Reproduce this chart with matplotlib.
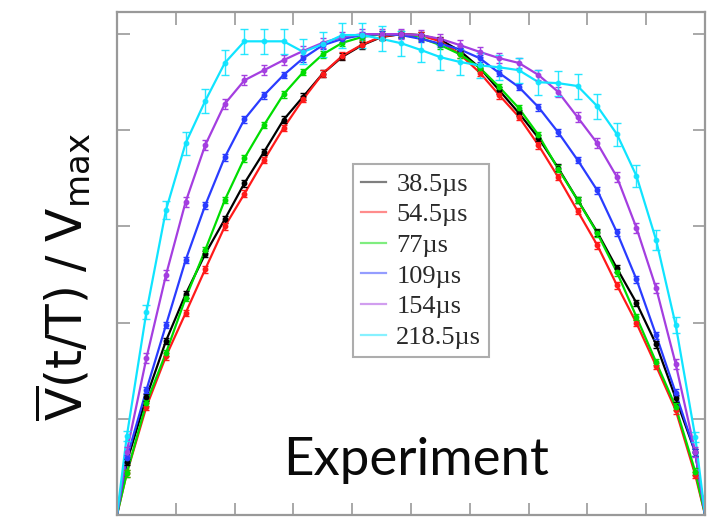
import matplotlib
matplotlib.use("Agg")
import matplotlib.pyplot as plt
from matplotlib.lines import Line2D

# t/T sample points (bin centres) with the curve end points at 0 and 1
t = [0.0, 0.0167, 0.05, 0.0833, 0.1167, 0.15, 0.1833, 0.2167, 0.25, 0.2833, 0.3167,
     0.35, 0.3833, 0.4167, 0.45, 0.4833, 0.5167, 0.55, 0.5833, 0.6167, 0.65,
     0.6833, 0.7167, 0.75, 0.7833, 0.8167, 0.85, 0.8833, 0.9167, 0.95, 0.9833, 1.0]

labels = ["38.5\u00b5s", "54.5\u00b5s", "77\u00b5s", "109\u00b5s", "154\u00b5s", "218.5\u00b5s"]
colors = ["#000000", "#ff1a1a", "#00dd00", "#2a3cff", "#a43ee0", "#10e4ff"]

v_38 = [0.0, 0.11, 0.245, 0.362, 0.459, 0.543, 0.615, 0.690, 0.755, 0.822, 0.870, 0.918,
        0.953, 0.977, 0.994, 1.0, 0.998, 0.988, 0.965, 0.930, 0.883, 0.836, 0.784,
        0.722, 0.655, 0.588, 0.513, 0.441, 0.355, 0.243, 0.13, 0.0]
v_54 = [0.0, 0.087, 0.225, 0.33, 0.42, 0.511, 0.60, 0.668, 0.738, 0.805, 0.865, 0.918,
        0.955, 0.978, 0.995, 1.0, 0.997, 0.985, 0.958, 0.92, 0.873, 0.828, 0.769,
        0.703, 0.632, 0.561, 0.478, 0.399, 0.31, 0.218, 0.083, 0.0]
v_77 = [0.0, 0.087, 0.233, 0.337, 0.451, 0.551, 0.655, 0.742, 0.811, 0.875, 0.921, 0.958,
        0.982, 0.994, 1.0, 0.999, 0.992, 0.977, 0.958, 0.93, 0.89, 0.846, 0.79,
        0.72, 0.655, 0.586, 0.505, 0.412, 0.318, 0.225, 0.09, 0.0]
v_109 = [0.0, 0.118, 0.26, 0.395, 0.53, 0.644, 0.744, 0.823, 0.873, 0.915, 0.95, 0.977,
         0.99, 0.998, 1.0, 0.998, 0.99, 0.98, 0.968, 0.95, 0.919, 0.89, 0.848,
         0.796, 0.738, 0.675, 0.588, 0.49, 0.374, 0.254, 0.13, 0.0]
v_154 = [0.0, 0.132, 0.326, 0.499, 0.651, 0.769, 0.855, 0.904, 0.925, 0.946, 0.965, 0.982,
         0.994, 1.0, 1.0, 1.0, 0.998, 0.99, 0.977, 0.963, 0.95, 0.94, 0.915,
         0.88, 0.827, 0.773, 0.703, 0.597, 0.472, 0.314, 0.131, 0.0]
v_218 = [0.0, 0.164, 0.422, 0.634, 0.773, 0.861, 0.94, 0.985, 0.985, 0.985, 0.963, 0.979,
         0.998, 0.998, 0.99, 0.981, 0.967, 0.952, 0.942, 0.935, 0.931, 0.925, 0.9,
         0.898, 0.892, 0.85, 0.792, 0.705, 0.572, 0.395, 0.162, 0.0]

err_small = [0.0] + [0.007] * 30 + [0.0]
err_154 = [0.0] + [0.01] * 30 + [0.0]
err_218 = [0.0, 0.01, 0.014, 0.019, 0.024, 0.025, 0.026, 0.026, 0.026, 0.026, 0.026, 0.026,
           0.026, 0.026, 0.026, 0.026, 0.026, 0.026, 0.026, 0.026, 0.026, 0.026, 0.026,
           0.026, 0.026, 0.026, 0.024, 0.022, 0.02, 0.016, 0.01, 0.0]

series = [v_38, v_54, v_77, v_109, v_154, v_218]
errors = [err_small, err_small, err_small, err_small, err_154, err_218]
ytick_vals = [0.2, 0.4, 0.6, 0.8, 1.0]
xtick_vals = [0.0, 0.1, 0.2, 0.3, 0.4, 0.5, 0.6, 0.7, 0.8, 0.9, 1.0]

plt.rcParams['mathtext.fontset'] = 'custom'
plt.rcParams['mathtext.rm'] = 'Lato'
plt.rcParams['mathtext.it'] = 'Lato'

fig = plt.figure(figsize=(7.09, 5.19), dpi=100)
ax = fig.add_axes([0.165, 0.0077, 0.8295, 0.9692])

for vals, err, col in zip(series, errors, colors):
    ax.plot(t, vals, color=col, lw=1.6, zorder=2)
    ax.errorbar(t[1:-1], vals[1:-1], yerr=err[1:-1], fmt='o', ms=3.2, color=col,
                ecolor=col, elinewidth=1.0, capsize=3 if err is err_218 else 2.2,
                capthick=1.0, zorder=3, alpha=0.9 if err is err_218 else 1.0)

ax.set_xlim(0, 1)
ax.set_ylim(0, 1.046)
ax.set_xticks(xtick_vals)
ax.set_yticks(ytick_vals)
ax.tick_params(axis='both', which='both', direction='in', length=9, width=1.2,
               color='#999999', top=True, right=True, labelbottom=False, labelleft=False)
for s in ax.spines.values():
    s.set_color('#999999')
    s.set_linewidth(1.6)

handles = [Line2D([0], [0], color=c, lw=1.6, alpha=0.5) for c in colors]
leg = ax.legend(handles, labels, loc='upper left', bbox_to_anchor=(0.401, 0.697),
                prop={'family': 'Liberation Serif', 'size': 19}, frameon=True,
                fancybox=False, handlelength=0.95, handletextpad=0.4,
                labelspacing=0.27, borderpad=0.3, borderaxespad=0.0)
leg.get_frame().set_edgecolor('#999999')
leg.get_frame().set_linewidth(1.5)
for txt in leg.get_texts():
    txt.set_color('#2a2a2a')

ax.text(0.508, 0.08, "Experiment", transform=ax.transAxes, ha='center', va='baseline',
        fontsize=38, family='Lato', color='#0a0a0a')

fig.text(0.088, 0.466, r'$\mathregular{\overline{V}(t/T)\ /\ V_{max}}$', rotation=90,
         ha='center', va='center', fontsize=35, color='#0a0a0a')

fig.savefig("out.png", dpi=100)
